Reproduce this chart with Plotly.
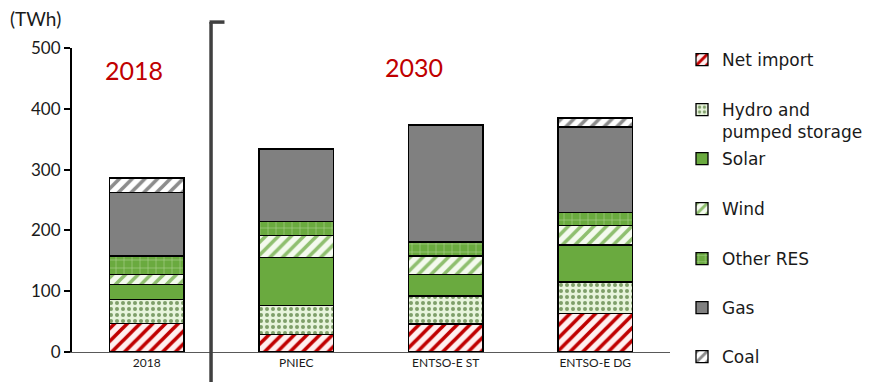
import plotly.graph_objects as go

categories = ["2018", "PNIEC", "ENTSO-E ST", "ENTSO-E DG"]
net_import = [47, 29, 46, 63]
hydro = [39, 48, 46, 52]
solar = [25, 78, 35, 61]
wind = [16, 37, 31, 32]
other_res = [31, 23, 23, 22]
gas = [104, 119, 191, 140]
coal = [24, 0, 2, 15]

series = [
    ("Net import", net_import, dict(shape="/", fgcolor="#c00000", bgcolor="#fff0f0", size=9, solidity=0.4)),
    ("Hydro and<br>pumped storage", hydro, dict(shape=".", fgcolor="#7f9f6a", bgcolor="#e8f4dc", size=6, solidity=0.35)),
    ("Solar", solar, None),
    ("Wind", wind, dict(shape="/", fgcolor="#8fbf6f", bgcolor="#f4faee", size=9, solidity=0.4)),
    ("Other RES", other_res, dict(shape="+", fgcolor="#a9d18e", bgcolor="#6aaa3f", size=8, solidity=0.15)),
    ("Gas", gas, None),
    ("Coal", coal, dict(shape="/", fgcolor="#8c8c8c", bgcolor="#ffffff", size=9, solidity=0.4)),
]
solid_colors = {"Solar": "#6aaa3f", "Gas": "#808080"}

legend_y = [60, 110, 159, 209, 259, 308, 357]
H = 382
W = 881

fig = go.Figure()
for i, (name, vals, pat) in enumerate(series):
    lg = "legend" if i == 0 else f"legend{i+1}"
    marker = dict(line=dict(color="black", width=1.3))
    if pat is None:
        marker["color"] = solid_colors[name]
    else:
        marker["color"] = pat["bgcolor"]
        marker["pattern"] = dict(fillmode="replace", **pat)
    fig.add_trace(go.Bar(x=categories, y=vals, name=name, marker=marker,
                         width=0.5, legend=lg, showlegend=True))

layout_legends = {}
for i, yy in enumerate(legend_y):
    key = "legend" if i == 0 else f"legend{i+1}"
    layout_legends[key] = dict(
        x=(682) / W, xref="container", y=1 - (yy - 18) / H, yref="container",
        xanchor="left", yanchor="top", valign="top",
        font=dict(family="DejaVu Sans, sans-serif", size=17, color="#1a1a1a"),
        bgcolor="rgba(0,0,0,0)", itemwidth=30, tracegroupgap=0,
    )

fig.update_layout(
    barmode="stack",
    width=W, height=H,
    margin=dict(l=72, r=201, t=48, b=29),
    plot_bgcolor="white", paper_bgcolor="white",
    font=dict(family="Lato, sans-serif", color="#1a1a1a"),
    xaxis=dict(
        range=[-0.5, 3.5], showline=True, linecolor="#595959", linewidth=1,
        ticks="", tickfont=dict(size=12, color="#1a1a1a"), showgrid=False,
    ),
    yaxis=dict(
        range=[0, 500], dtick=100, showline=True, linecolor="black", linewidth=2,
        ticks="outside", ticklen=6, tickwidth=2, tickcolor="black",
        tickfont=dict(size=17, color="#1a1a1a"), showgrid=False, zeroline=False,
    ),
    **layout_legends,
)

# divider line between 2018 and 2030
fig.add_shape(type="line", xref="x", yref="paper", x0=0.43, x1=0.43,
              y0=-0.2, y1=(353 - 22) / 305, line=dict(color="#404040", width=3.5))
fig.add_shape(type="line", xref="x", yref="paper", x0=0.42, x1=0.52,
              y0=(353 - 22) / 305, y1=(353 - 22) / 305, line=dict(color="#404040", width=3.5))

fig.add_annotation(text="2018", xref="paper", yref="paper", x=(135 - 72) / 608, y=(353 - 70) / 305,
                   xanchor="center", yanchor="middle",
                   showarrow=False, font=dict(size=25, color="#c00000"))
fig.add_annotation(text="2030", xref="paper", yref="paper", x=(420 - 72) / 608, y=(353 - 67) / 305,
                   xanchor="center", yanchor="middle",
                   showarrow=False, font=dict(size=25, color="#c00000"))
fig.add_annotation(text="(TWh)", xref="paper", yref="paper", x=(35 - 72) / 608, y=(353 - 18) / 305,
                   xanchor="center", yanchor="middle",
                   showarrow=False, font=dict(size=19, color="#1a1a1a"))

fig.write_html("out.html")
